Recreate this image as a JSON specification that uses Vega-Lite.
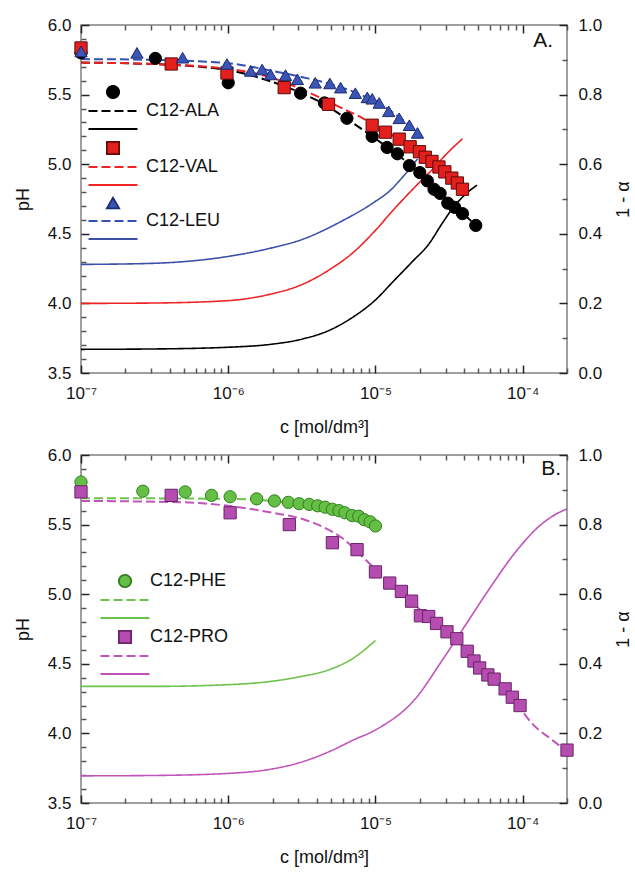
{
  "$schema": "https://vega.github.io/schema/vega-lite/v6.json",
  "padding": {"left": 13, "top": 15, "right": 5, "bottom": 2},
  "background": "white",
  "config": {
    "font": "Liberation Sans",
    "view": {"stroke": "#808080", "strokeWidth": 1.5},
    "axis": {"grid": false, "domain": false, "labelFont": "Liberation Sans", "titleFont": "Liberation Sans", "labelFontSize": 17, "titleFontSize": 18, "titleFontWeight": "normal", "labelColor": "#111", "titleColor": "#111", "tickWidth": 1.5, "tickOpacity": 1, "labelOverlap": false, "labelFlush": false},
    "legend": {"title": null, "orient": "none", "symbolSize": 150, "symbolStrokeWidth": 1.8, "padding": 0, "labelFontSize": 18, "labelFont": "Liberation Sans", "labelColor": "#111", "labelLimit": 300}
  },
  "datasets": {
    "ptsA": [
      {"k": "ALA-pt", "c": 1e-7, "pH": 5.80}, {"k": "ALA-pt", "c": 3.2e-7, "pH": 5.76}, {"k": "ALA-pt", "c": 1e-6, "pH": 5.585}, {"k": "ALA-pt", "c": 3.1e-6, "pH": 5.51}, {"k": "ALA-pt", "c": 4.5e-6, "pH": 5.44}, {"k": "ALA-pt", "c": 6.4e-6, "pH": 5.33}, {"k": "ALA-pt", "c": 9.5e-6, "pH": 5.20}, {"k": "ALA-pt", "c": 1.2e-5, "pH": 5.12}, {"k": "ALA-pt", "c": 1.41e-5, "pH": 5.075}, {"k": "ALA-pt", "c": 1.7e-5, "pH": 4.99}, {"k": "ALA-pt", "c": 2e-5, "pH": 4.94}, {"k": "ALA-pt", "c": 2.25e-5, "pH": 4.88}, {"k": "ALA-pt", "c": 2.5e-5, "pH": 4.82}, {"k": "ALA-pt", "c": 2.75e-5, "pH": 4.79}, {"k": "ALA-pt", "c": 3.1e-5, "pH": 4.72}, {"k": "ALA-pt", "c": 3.45e-5, "pH": 4.69}, {"k": "ALA-pt", "c": 3.9e-5, "pH": 4.645}, {"k": "ALA-pt", "c": 4.8e-5, "pH": 4.56},
      {"k": "VAL-pt", "c": 1e-7, "pH": 5.835}, {"k": "VAL-pt", "c": 4.1e-7, "pH": 5.72}, {"k": "VAL-pt", "c": 9.8e-7, "pH": 5.655}, {"k": "VAL-pt", "c": 2.4e-6, "pH": 5.55}, {"k": "VAL-pt", "c": 4.8e-6, "pH": 5.43}, {"k": "VAL-pt", "c": 9.5e-6, "pH": 5.28}, {"k": "VAL-pt", "c": 1.17e-5, "pH": 5.23}, {"k": "VAL-pt", "c": 1.45e-5, "pH": 5.18}, {"k": "VAL-pt", "c": 1.72e-5, "pH": 5.125}, {"k": "VAL-pt", "c": 1.99e-5, "pH": 5.09}, {"k": "VAL-pt", "c": 2.18e-5, "pH": 5.05}, {"k": "VAL-pt", "c": 2.42e-5, "pH": 5.02}, {"k": "VAL-pt", "c": 2.7e-5, "pH": 4.98}, {"k": "VAL-pt", "c": 2.96e-5, "pH": 4.945}, {"k": "VAL-pt", "c": 3.3e-5, "pH": 4.90}, {"k": "VAL-pt", "c": 3.6e-5, "pH": 4.865}, {"k": "VAL-pt", "c": 3.9e-5, "pH": 4.82},
      {"k": "LEU-pt", "c": 1e-7, "pH": 5.81}, {"k": "LEU-pt", "c": 2.4e-7, "pH": 5.80}, {"k": "LEU-pt", "c": 4.9e-7, "pH": 5.765}, {"k": "LEU-pt", "c": 9.8e-7, "pH": 5.72}, {"k": "LEU-pt", "c": 1.42e-6, "pH": 5.67}, {"k": "LEU-pt", "c": 1.7e-6, "pH": 5.68}, {"k": "LEU-pt", "c": 1.94e-6, "pH": 5.645}, {"k": "LEU-pt", "c": 2.45e-6, "pH": 5.64}, {"k": "LEU-pt", "c": 2.95e-6, "pH": 5.61}, {"k": "LEU-pt", "c": 3.9e-6, "pH": 5.585}, {"k": "LEU-pt", "c": 4.9e-6, "pH": 5.58}, {"k": "LEU-pt", "c": 5.8e-6, "pH": 5.55}, {"k": "LEU-pt", "c": 7.3e-6, "pH": 5.51}, {"k": "LEU-pt", "c": 8.8e-6, "pH": 5.48}, {"k": "LEU-pt", "c": 9.5e-6, "pH": 5.47}, {"k": "LEU-pt", "c": 1.06e-5, "pH": 5.44}, {"k": "LEU-pt", "c": 1.23e-5, "pH": 5.38}, {"k": "LEU-pt", "c": 1.45e-5, "pH": 5.33}, {"k": "LEU-pt", "c": 1.7e-5, "pH": 5.28}, {"k": "LEU-pt", "c": 1.93e-5, "pH": 5.225}
    ],
    "dashA": [
      {"k": "ALA-dash", "c": 1e-7, "pH": 5.73}, {"k": "ALA-dash", "c": 3e-7, "pH": 5.72}, {"k": "ALA-dash", "c": 1e-6, "pH": 5.675}, {"k": "ALA-dash", "c": 2e-6, "pH": 5.59}, {"k": "ALA-dash", "c": 3e-6, "pH": 5.52}, {"k": "ALA-dash", "c": 4.5e-6, "pH": 5.43}, {"k": "ALA-dash", "c": 6.5e-6, "pH": 5.32}, {"k": "ALA-dash", "c": 9.5e-6, "pH": 5.20}, {"k": "ALA-dash", "c": 1.4e-5, "pH": 5.07}, {"k": "ALA-dash", "c": 2e-5, "pH": 4.94}, {"k": "ALA-dash", "c": 2.8e-5, "pH": 4.79}, {"k": "ALA-dash", "c": 3.9e-5, "pH": 4.65}, {"k": "ALA-dash", "c": 4.8e-5, "pH": 4.56},
      {"k": "VAL-dash", "c": 1e-7, "pH": 5.73}, {"k": "VAL-dash", "c": 3e-7, "pH": 5.72}, {"k": "VAL-dash", "c": 1e-6, "pH": 5.685}, {"k": "VAL-dash", "c": 2e-6, "pH": 5.62}, {"k": "VAL-dash", "c": 3.7e-6, "pH": 5.505}, {"k": "VAL-dash", "c": 6e-6, "pH": 5.40}, {"k": "VAL-dash", "c": 8.2e-6, "pH": 5.33}, {"k": "VAL-dash", "c": 1.2e-5, "pH": 5.23}, {"k": "VAL-dash", "c": 1.7e-5, "pH": 5.13}, {"k": "VAL-dash", "c": 2.4e-5, "pH": 5.02}, {"k": "VAL-dash", "c": 3e-5, "pH": 4.94}, {"k": "VAL-dash", "c": 3.9e-5, "pH": 4.82},
      {"k": "LEU-dash", "c": 1e-7, "pH": 5.755}, {"k": "LEU-dash", "c": 3e-7, "pH": 5.75}, {"k": "LEU-dash", "c": 1e-6, "pH": 5.725}, {"k": "LEU-dash", "c": 2e-6, "pH": 5.67}, {"k": "LEU-dash", "c": 3.2e-6, "pH": 5.625}, {"k": "LEU-dash", "c": 5e-6, "pH": 5.575}, {"k": "LEU-dash", "c": 7.5e-6, "pH": 5.51}, {"k": "LEU-dash", "c": 1e-5, "pH": 5.45}, {"k": "LEU-dash", "c": 1.4e-5, "pH": 5.35}, {"k": "LEU-dash", "c": 1.93e-5, "pH": 5.23}
    ],
    "solidA": [
      {"k": "ALA-solid", "c": 1e-7, "a": 0.068}, {"k": "ALA-solid", "c": 3e-7, "a": 0.069}, {"k": "ALA-solid", "c": 1e-6, "a": 0.074}, {"k": "ALA-solid", "c": 2e-6, "a": 0.083}, {"k": "ALA-solid", "c": 3e-6, "a": 0.095}, {"k": "ALA-solid", "c": 5e-6, "a": 0.125}, {"k": "ALA-solid", "c": 7e-6, "a": 0.16}, {"k": "ALA-solid", "c": 1e-5, "a": 0.21}, {"k": "ALA-solid", "c": 1.3e-5, "a": 0.26}, {"k": "ALA-solid", "c": 1.78e-5, "a": 0.32}, {"k": "ALA-solid", "c": 2.3e-5, "a": 0.37}, {"k": "ALA-solid", "c": 2.84e-5, "a": 0.43}, {"k": "ALA-solid", "c": 3.3e-5, "a": 0.47}, {"k": "ALA-solid", "c": 4e-5, "a": 0.51}, {"k": "ALA-solid", "c": 4.9e-5, "a": 0.54},
      {"k": "VAL-solid", "c": 1e-7, "a": 0.2}, {"k": "VAL-solid", "c": 3e-7, "a": 0.201}, {"k": "VAL-solid", "c": 1e-6, "a": 0.208}, {"k": "VAL-solid", "c": 2e-6, "a": 0.228}, {"k": "VAL-solid", "c": 3e-6, "a": 0.25}, {"k": "VAL-solid", "c": 5e-6, "a": 0.30}, {"k": "VAL-solid", "c": 7e-6, "a": 0.345}, {"k": "VAL-solid", "c": 1e-5, "a": 0.41}, {"k": "VAL-solid", "c": 1.3e-5, "a": 0.465}, {"k": "VAL-solid", "c": 1.86e-5, "a": 0.535}, {"k": "VAL-solid", "c": 2.5e-5, "a": 0.59}, {"k": "VAL-solid", "c": 3e-5, "a": 0.627}, {"k": "VAL-solid", "c": 3.9e-5, "a": 0.673},
      {"k": "LEU-solid", "c": 1e-7, "a": 0.312}, {"k": "LEU-solid", "c": 3e-7, "a": 0.315}, {"k": "LEU-solid", "c": 1e-6, "a": 0.335}, {"k": "LEU-solid", "c": 2e-6, "a": 0.36}, {"k": "LEU-solid", "c": 3e-6, "a": 0.38}, {"k": "LEU-solid", "c": 6e-6, "a": 0.438}, {"k": "LEU-solid", "c": 9.5e-6, "a": 0.487}, {"k": "LEU-solid", "c": 1.3e-5, "a": 0.53}, {"k": "LEU-solid", "c": 1.46e-5, "a": 0.553}, {"k": "LEU-solid", "c": 1.93e-5, "a": 0.615}
    ],
    "ptsB": [
      {"k": "PHE-pt", "c": 1e-7, "pH": 5.806}, {"k": "PHE-pt", "c": 2.63e-7, "pH": 5.74}, {"k": "PHE-pt", "c": 5.1e-7, "pH": 5.735}, {"k": "PHE-pt", "c": 7.7e-7, "pH": 5.71}, {"k": "PHE-pt", "c": 1.03e-6, "pH": 5.70}, {"k": "PHE-pt", "c": 1.56e-6, "pH": 5.685}, {"k": "PHE-pt", "c": 2.06e-6, "pH": 5.67}, {"k": "PHE-pt", "c": 2.56e-6, "pH": 5.66}, {"k": "PHE-pt", "c": 3.03e-6, "pH": 5.65}, {"k": "PHE-pt", "c": 3.55e-6, "pH": 5.645}, {"k": "PHE-pt", "c": 4.05e-6, "pH": 5.635}, {"k": "PHE-pt", "c": 4.55e-6, "pH": 5.625}, {"k": "PHE-pt", "c": 5.1e-6, "pH": 5.61}, {"k": "PHE-pt", "c": 5.65e-6, "pH": 5.60}, {"k": "PHE-pt", "c": 6.2e-6, "pH": 5.585}, {"k": "PHE-pt", "c": 6.95e-6, "pH": 5.565}, {"k": "PHE-pt", "c": 7.7e-6, "pH": 5.56}, {"k": "PHE-pt", "c": 8.4e-6, "pH": 5.535}, {"k": "PHE-pt", "c": 9.2e-6, "pH": 5.52}, {"k": "PHE-pt", "c": 1e-5, "pH": 5.49},
      {"k": "PRO-pt", "c": 1e-7, "pH": 5.735}, {"k": "PRO-pt", "c": 4.1e-7, "pH": 5.71}, {"k": "PRO-pt", "c": 1.03e-6, "pH": 5.585}, {"k": "PRO-pt", "c": 2.6e-6, "pH": 5.50}, {"k": "PRO-pt", "c": 5.1e-6, "pH": 5.37}, {"k": "PRO-pt", "c": 7.5e-6, "pH": 5.32}, {"k": "PRO-pt", "c": 1e-5, "pH": 5.16}, {"k": "PRO-pt", "c": 1.25e-5, "pH": 5.08}, {"k": "PRO-pt", "c": 1.5e-5, "pH": 5.02}, {"k": "PRO-pt", "c": 1.76e-5, "pH": 4.95}, {"k": "PRO-pt", "c": 2.02e-5, "pH": 4.845}, {"k": "PRO-pt", "c": 2.3e-5, "pH": 4.84}, {"k": "PRO-pt", "c": 2.6e-5, "pH": 4.79}, {"k": "PRO-pt", "c": 3.06e-5, "pH": 4.73}, {"k": "PRO-pt", "c": 3.57e-5, "pH": 4.68}, {"k": "PRO-pt", "c": 4.2e-5, "pH": 4.59}, {"k": "PRO-pt", "c": 4.67e-5, "pH": 4.52}, {"k": "PRO-pt", "c": 5.1e-5, "pH": 4.47}, {"k": "PRO-pt", "c": 5.8e-5, "pH": 4.42}, {"k": "PRO-pt", "c": 6.4e-5, "pH": 4.39}, {"k": "PRO-pt", "c": 7.6e-5, "pH": 4.32}, {"k": "PRO-pt", "c": 8.5e-5, "pH": 4.26}, {"k": "PRO-pt", "c": 9.6e-5, "pH": 4.20}, {"k": "PRO-pt", "c": 2e-4, "pH": 3.88}
    ],
    "dashB": [
      {"k": "PHE-dash", "c": 1e-7, "pH": 5.69}, {"k": "PHE-dash", "c": 1e-6, "pH": 5.685}, {"k": "PHE-dash", "c": 2e-6, "pH": 5.67}, {"k": "PHE-dash", "c": 4e-6, "pH": 5.635}, {"k": "PHE-dash", "c": 6e-6, "pH": 5.59}, {"k": "PHE-dash", "c": 8e-6, "pH": 5.545}, {"k": "PHE-dash", "c": 1e-5, "pH": 5.49},
      {"k": "PRO-dash", "c": 1e-7, "pH": 5.67}, {"k": "PRO-dash", "c": 5e-7, "pH": 5.66}, {"k": "PRO-dash", "c": 1e-6, "pH": 5.635}, {"k": "PRO-dash", "c": 2e-6, "pH": 5.585}, {"k": "PRO-dash", "c": 3.2e-6, "pH": 5.54}, {"k": "PRO-dash", "c": 6e-6, "pH": 5.40}, {"k": "PRO-dash", "c": 1e-5, "pH": 5.18}, {"k": "PRO-dash", "c": 1.5e-5, "pH": 5.02}, {"k": "PRO-dash", "c": 2e-5, "pH": 4.89}, {"k": "PRO-dash", "c": 3e-5, "pH": 4.73}, {"k": "PRO-dash", "c": 4.5e-5, "pH": 4.55}, {"k": "PRO-dash", "c": 6e-5, "pH": 4.41}, {"k": "PRO-dash", "c": 9e-5, "pH": 4.22}, {"k": "PRO-dash", "c": 1.16e-4, "pH": 4.07}, {"k": "PRO-dash", "c": 1.6e-4, "pH": 3.95}, {"k": "PRO-dash", "c": 2e-4, "pH": 3.87}
    ],
    "solidB": [
      {"k": "PHE-solid", "c": 1e-7, "a": 0.335}, {"k": "PHE-solid", "c": 3e-7, "a": 0.335}, {"k": "PHE-solid", "c": 1e-6, "a": 0.34}, {"k": "PHE-solid", "c": 2e-6, "a": 0.35}, {"k": "PHE-solid", "c": 3e-6, "a": 0.362}, {"k": "PHE-solid", "c": 5e-6, "a": 0.385}, {"k": "PHE-solid", "c": 7e-6, "a": 0.415}, {"k": "PHE-solid", "c": 1e-5, "a": 0.467},
      {"k": "PRO-solid", "c": 1e-7, "a": 0.078}, {"k": "PRO-solid", "c": 3e-7, "a": 0.079}, {"k": "PRO-solid", "c": 1e-6, "a": 0.085}, {"k": "PRO-solid", "c": 2e-6, "a": 0.098}, {"k": "PRO-solid", "c": 3e-6, "a": 0.115}, {"k": "PRO-solid", "c": 5e-6, "a": 0.15}, {"k": "PRO-solid", "c": 7e-6, "a": 0.18}, {"k": "PRO-solid", "c": 1e-5, "a": 0.21}, {"k": "PRO-solid", "c": 1.87e-5, "a": 0.30}, {"k": "PRO-solid", "c": 2.84e-5, "a": 0.41}, {"k": "PRO-solid", "c": 4.07e-5, "a": 0.51}, {"k": "PRO-solid", "c": 5.93e-5, "a": 0.615}, {"k": "PRO-solid", "c": 8.9e-5, "a": 0.72}, {"k": "PRO-solid", "c": 1.29e-4, "a": 0.795}, {"k": "PRO-solid", "c": 1.77e-4, "a": 0.835}, {"k": "PRO-solid", "c": 2e-4, "a": 0.845}
    ]
  },
  "vconcat": [
    {
      "width": 486, "height": 348,
      "title": {"text": "A.", "anchor": "end", "orient": "top", "frame": "group", "offset": -35, "dx": -14, "fontSize": 21, "fontWeight": "normal", "font": "Liberation Sans", "color": "#111"},
      "layer": [
        {
          "data": {"name": "solidA"},
          "mark": {"type": "line", "strokeWidth": 1.6, "interpolate": "monotone"},
          "encoding": {
            "x": {"field": "c", "type": "quantitative", "scale": {"type": "log", "domain": [1e-7, 2e-4], "nice": false},
              "axis": {"orient": "top", "labels": false, "title": null, "values": [1e-7, 1e-6, 1e-5, 1e-4], "tickSize": 8, "offset": -8, "tickColor": "#222"}},
            "y": {"field": "a", "type": "quantitative", "scale": {"domain": [0, 1], "nice": false, "zero": false},
              "axis": {"orient": "right", "ticks": false, "tickSize": 0, "values": [0, 0.2, 0.4, 0.6, 0.8, 1], "format": ".1f", "labelPadding": 11, "title": "1 - α", "titleAngle": 270, "titleBaseline": "top", "titlePadding": 13}},
            "stroke": {"field": "k", "type": "nominal", "scale": {"domain": ["ALA-pt","ALA-dash","ALA-solid","VAL-pt","VAL-dash","VAL-solid","LEU-pt","LEU-dash","LEU-solid"], "range": ["#000000","#000000","#000000","#5e0c0c","#ee2424","#ee2424","#1c2a72","#3550b4","#3d50a8"]},
              "legend": {"legendX": 23, "legendY": 58, "labelExpr": "indexof(datum.value, '-dash') > 0 ? 'C12-' + slice(datum.value, 0, 3) : ''", "labelOffset": 24, "rowPadding": 0}},
            "strokeDash": {"field": "k", "type": "nominal", "scale": {"domain": ["ALA-pt","ALA-dash","ALA-solid","VAL-pt","VAL-dash","VAL-solid","LEU-pt","LEU-dash","LEU-solid"], "range": [[1,0],[9,4],[1,0],[1,0],[9,4],[1,0],[1,0],[9,4],[1,0]]},
              "legend": {"legendX": 23, "legendY": 58, "labelExpr": "indexof(datum.value, '-dash') > 0 ? 'C12-' + slice(datum.value, 0, 3) : ''", "labelOffset": 24, "rowPadding": 0}}
          }
        },
        {
          "encoding": {
            "x": {"field": "c", "type": "quantitative", "scale": {"type": "log", "domain": [1e-7, 2e-4], "nice": false},
              "axis": {"orient": "bottom", "ticks": false, "tickSize": 0, "values": [1e-7, 1e-6, 1e-5, 1e-4], "labelPadding": 12, "title": "c [mol/dm³]", "titlePadding": 17,
                "labelExpr": "datum.value == 0.0000001 ? '10⁻⁷' : datum.value == 0.000001 ? '10⁻⁶' : datum.value == 0.00001 ? '10⁻⁵' : '10⁻⁴'"}},
            "y": {"field": "pH", "type": "quantitative", "scale": {"domain": [3.5, 6], "nice": false, "zero": false},
              "axis": {"orient": "left", "ticks": false, "tickSize": 0, "values": [3.5, 4, 4.5, 5, 5.5, 6], "format": ".1f", "labelPadding": 10, "title": "pH", "titlePadding": 15}}
          },
          "layer": [
            {
              "data": {"name": "dashA"},
              "mark": {"type": "line", "strokeWidth": 2, "interpolate": "monotone"},
              "encoding": {
                "stroke": {"field": "k", "type": "nominal", "scale": {"domain": ["ALA-pt","ALA-dash","ALA-solid","VAL-pt","VAL-dash","VAL-solid","LEU-pt","LEU-dash","LEU-solid"], "range": ["#000000","#000000","#000000","#5e0c0c","#ee2424","#ee2424","#1c2a72","#3550b4","#3d50a8"]},
                  "legend": {"legendX": 23, "legendY": 58, "labelExpr": "indexof(datum.value, '-dash') > 0 ? 'C12-' + slice(datum.value, 0, 3) : ''", "labelOffset": 24, "rowPadding": 0}},
                "strokeDash": {"field": "k", "type": "nominal", "scale": {"domain": ["ALA-pt","ALA-dash","ALA-solid","VAL-pt","VAL-dash","VAL-solid","LEU-pt","LEU-dash","LEU-solid"], "range": [[1,0],[9,4],[1,0],[1,0],[9,4],[1,0],[1,0],[9,4],[1,0]]},
                  "legend": {"legendX": 23, "legendY": 58, "labelExpr": "indexof(datum.value, '-dash') > 0 ? 'C12-' + slice(datum.value, 0, 3) : ''", "labelOffset": 24, "rowPadding": 0}}
              }
            },
            {
              "data": {"name": "ptsA"},
              "mark": {"type": "point", "filled": true, "opacity": 1, "size": 150, "strokeWidth": 1},
              "encoding": {
                "fill": {"field": "k", "type": "nominal", "scale": {"domain": ["ALA-pt","ALA-dash","ALA-solid","VAL-pt","VAL-dash","VAL-solid","LEU-pt","LEU-dash","LEU-solid"], "range": ["#000000","transparent","transparent","#e3201e","transparent","transparent","#3a55b5","transparent","transparent"]},
                  "legend": {"legendX": 23, "legendY": 58, "labelExpr": "indexof(datum.value, '-dash') > 0 ? 'C12-' + slice(datum.value, 0, 3) : ''", "labelOffset": 24, "rowPadding": 0}},
                "stroke": {"field": "k", "type": "nominal", "scale": {"domain": ["ALA-pt","ALA-dash","ALA-solid","VAL-pt","VAL-dash","VAL-solid","LEU-pt","LEU-dash","LEU-solid"], "range": ["#000000","#000000","#000000","#5e0c0c","#ee2424","#ee2424","#1c2a72","#3550b4","#3d50a8"]},
                  "legend": {"legendX": 23, "legendY": 58, "labelExpr": "indexof(datum.value, '-dash') > 0 ? 'C12-' + slice(datum.value, 0, 3) : ''", "labelOffset": 24, "rowPadding": 0}},
                "shape": {"field": "k", "type": "nominal", "scale": {"domain": ["ALA-pt","ALA-dash","ALA-solid","VAL-pt","VAL-dash","VAL-solid","LEU-pt","LEU-dash","LEU-solid"], "range": ["circle","M-4,0H4","M-4,0H4","square","M-4,0H4","M-4,0H4","triangle-up","M-4,0H4","M-4,0H4"]},
                  "legend": {"legendX": 23, "legendY": 58, "labelExpr": "indexof(datum.value, '-dash') > 0 ? 'C12-' + slice(datum.value, 0, 3) : ''", "labelOffset": 24, "rowPadding": 0}}
              }
            }
          ]
        },
        {
          "data": {"name": "ptsA"},
          "mark": {"type": "point", "opacity": 0},
          "encoding": {
            "x": {"field": "c", "type": "quantitative", "scale": {"type": "log", "domain": [1e-7, 2e-4], "nice": false},
              "axis": {"orient": "bottom", "labels": false, "title": null, "values": [1e-7, 1e-6, 1e-5, 1e-4], "tickSize": 8, "offset": -8, "tickColor": "#222"}},
            "y": {"field": "pH", "type": "quantitative", "scale": {"domain": [3.5, 6], "nice": false, "zero": false},
              "axis": {"orient": "left", "labels": false, "title": null, "values": [3.5, 4, 4.5, 5, 5.5, 6], "tickSize": 8, "offset": -8, "tickColor": "#222"}}
          }
        },
        {
          "data": {"name": "ptsA"},
          "mark": {"type": "point", "opacity": 0},
          "encoding": {
            "x": {"field": "c", "type": "quantitative", "scale": {"type": "log", "domain": [1e-7, 2e-4], "nice": false},
              "axis": {"orient": "bottom", "labels": false, "title": null, "values": [2e-7,3e-7,4e-7,5e-7,6e-7,7e-7,8e-7,9e-7,2e-6,3e-6,4e-6,5e-6,6e-6,7e-6,8e-6,9e-6,2e-5,3e-5,4e-5,5e-5,6e-5,7e-5,8e-5,9e-5,2e-4], "tickSize": -5, "tickColor": "#555"}},
            "y": {"field": "pH", "type": "quantitative", "scale": {"domain": [3.5, 6], "nice": false, "zero": false},
              "axis": {"orient": "left", "labels": false, "title": null, "values": [3.6,3.7,3.8,3.9,4.1,4.2,4.3,4.4,4.6,4.7,4.8,4.9,5.1,5.2,5.3,5.4,5.6,5.7,5.8,5.9], "tickSize": -5, "tickColor": "#555"}}
          }
        },
        {
          "data": {"name": "solidA"},
          "mark": {"type": "point", "opacity": 0},
          "encoding": {
            "x": {"field": "c", "type": "quantitative", "scale": {"type": "log", "domain": [1e-7, 2e-4], "nice": false},
              "axis": {"orient": "top", "labels": false, "title": null, "values": [2e-7,3e-7,4e-7,5e-7,6e-7,7e-7,8e-7,9e-7,2e-6,3e-6,4e-6,5e-6,6e-6,7e-6,8e-6,9e-6,2e-5,3e-5,4e-5,5e-5,6e-5,7e-5,8e-5,9e-5,2e-4], "tickSize": -5, "tickColor": "#555"}},
            "y": {"field": "a", "type": "quantitative", "scale": {"domain": [0, 1], "nice": false, "zero": false},
              "axis": {"orient": "right", "labels": false, "title": null, "values": [0, 0.2, 0.4, 0.6, 0.8, 1], "tickSize": 8, "offset": -8, "tickColor": "#222"}}
          }
        },
        {
          "data": {"name": "solidA"},
          "mark": {"type": "point", "opacity": 0},
          "encoding": {
            "x": {"field": "c", "type": "quantitative", "scale": {"type": "log", "domain": [1e-7, 2e-4], "nice": false}, "axis": null},
            "y": {"field": "a", "type": "quantitative", "scale": {"domain": [0, 1], "nice": false, "zero": false},
              "axis": {"orient": "right", "labels": false, "title": null, "values": [0.1, 0.3, 0.5, 0.7, 0.9], "tickSize": -5, "tickColor": "#555"}}
          }
        }
      ],
      "resolve": {"scale": {"y": "independent"}, "axis": {"x": "independent", "y": "independent"}}
    },
    {
      "width": 486, "height": 348,
      "title": {"text": "B.", "anchor": "end", "orient": "top", "frame": "group", "offset": -33, "dx": -6, "fontSize": 21, "fontWeight": "normal", "font": "Liberation Sans", "color": "#111"},
      "layer": [
        {
          "data": {"name": "solidB"},
          "mark": {"type": "line", "strokeWidth": 1.6, "interpolate": "monotone"},
          "encoding": {
            "x": {"field": "c", "type": "quantitative", "scale": {"type": "log", "domain": [1e-7, 2e-4], "nice": false},
              "axis": {"orient": "top", "labels": false, "title": null, "values": [1e-7, 1e-6, 1e-5, 1e-4], "tickSize": 8, "offset": -8, "tickColor": "#222"}},
            "y": {"field": "a", "type": "quantitative", "scale": {"domain": [0, 1], "nice": false, "zero": false},
              "axis": {"orient": "right", "ticks": false, "tickSize": 0, "values": [0, 0.2, 0.4, 0.6, 0.8, 1], "format": ".1f", "labelPadding": 11, "title": "1 - α", "titleAngle": 270, "titleBaseline": "top", "titlePadding": 13}},
            "stroke": {"field": "k", "type": "nominal", "scale": {"domain": ["PHE-pt","PHE-dash","PHE-solid","PRO-pt","PRO-dash","PRO-solid"], "range": ["#2f7f1f","#6dc24b","#6dc24b","#6b2468","#c055b9","#c055b9"]},
              "legend": {"legendX": 35, "legendY": 117, "labelExpr": "indexof(datum.value, '-pt') > 0 ? 'C12-' + slice(datum.value, 0, 3) : ''", "labelOffset": 16, "rowPadding": 0}},
            "strokeDash": {"field": "k", "type": "nominal", "scale": {"domain": ["PHE-pt","PHE-dash","PHE-solid","PRO-pt","PRO-dash","PRO-solid"], "range": [[1,0],[9,4],[1,0],[1,0],[9,4],[1,0]]},
              "legend": {"legendX": 35, "legendY": 117, "labelExpr": "indexof(datum.value, '-pt') > 0 ? 'C12-' + slice(datum.value, 0, 3) : ''", "labelOffset": 16, "rowPadding": 0}}
          }
        },
        {
          "encoding": {
            "x": {"field": "c", "type": "quantitative", "scale": {"type": "log", "domain": [1e-7, 2e-4], "nice": false},
              "axis": {"orient": "bottom", "ticks": false, "tickSize": 0, "values": [1e-7, 1e-6, 1e-5, 1e-4], "labelPadding": 12, "title": "c [mol/dm³]", "titlePadding": 17,
                "labelExpr": "datum.value == 0.0000001 ? '10⁻⁷' : datum.value == 0.000001 ? '10⁻⁶' : datum.value == 0.00001 ? '10⁻⁵' : '10⁻⁴'"}},
            "y": {"field": "pH", "type": "quantitative", "scale": {"domain": [3.5, 6], "nice": false, "zero": false},
              "axis": {"orient": "left", "ticks": false, "tickSize": 0, "values": [3.5, 4, 4.5, 5, 5.5, 6], "format": ".1f", "labelPadding": 10, "title": "pH", "titlePadding": 15}}
          },
          "layer": [
            {
              "data": {"name": "dashB"},
              "mark": {"type": "line", "strokeWidth": 2, "interpolate": "monotone"},
              "encoding": {
                "stroke": {"field": "k", "type": "nominal", "scale": {"domain": ["PHE-pt","PHE-dash","PHE-solid","PRO-pt","PRO-dash","PRO-solid"], "range": ["#2f7f1f","#6dc24b","#6dc24b","#6b2468","#c055b9","#c055b9"]},
                  "legend": {"legendX": 35, "legendY": 117, "labelExpr": "indexof(datum.value, '-pt') > 0 ? 'C12-' + slice(datum.value, 0, 3) : ''", "labelOffset": 16, "rowPadding": 0}},
                "strokeDash": {"field": "k", "type": "nominal", "scale": {"domain": ["PHE-pt","PHE-dash","PHE-solid","PRO-pt","PRO-dash","PRO-solid"], "range": [[1,0],[9,4],[1,0],[1,0],[9,4],[1,0]]},
                  "legend": {"legendX": 35, "legendY": 117, "labelExpr": "indexof(datum.value, '-pt') > 0 ? 'C12-' + slice(datum.value, 0, 3) : ''", "labelOffset": 16, "rowPadding": 0}}
              }
            },
            {
              "data": {"name": "ptsB"},
              "mark": {"type": "point", "filled": true, "opacity": 1, "size": 150, "strokeWidth": 1},
              "encoding": {
                "fill": {"field": "k", "type": "nominal", "scale": {"domain": ["PHE-pt","PHE-dash","PHE-solid","PRO-pt","PRO-dash","PRO-solid"], "range": ["#66bf45","transparent","transparent","#b54db0","transparent","transparent"]},
                  "legend": {"legendX": 35, "legendY": 117, "labelExpr": "indexof(datum.value, '-pt') > 0 ? 'C12-' + slice(datum.value, 0, 3) : ''", "labelOffset": 16, "rowPadding": 0}},
                "stroke": {"field": "k", "type": "nominal", "scale": {"domain": ["PHE-pt","PHE-dash","PHE-solid","PRO-pt","PRO-dash","PRO-solid"], "range": ["#2f7f1f","#6dc24b","#6dc24b","#6b2468","#c055b9","#c055b9"]},
                  "legend": {"legendX": 35, "legendY": 117, "labelExpr": "indexof(datum.value, '-pt') > 0 ? 'C12-' + slice(datum.value, 0, 3) : ''", "labelOffset": 16, "rowPadding": 0}},
                "shape": {"field": "k", "type": "nominal", "scale": {"domain": ["PHE-pt","PHE-dash","PHE-solid","PRO-pt","PRO-dash","PRO-solid"], "range": ["circle","M-4,0H4","M-4,0H4","square","M-4,0H4","M-4,0H4"]},
                  "legend": {"legendX": 35, "legendY": 117, "labelExpr": "indexof(datum.value, '-pt') > 0 ? 'C12-' + slice(datum.value, 0, 3) : ''", "labelOffset": 16, "rowPadding": 0}}
              }
            }
          ]
        },
        {
          "data": {"name": "ptsB"},
          "mark": {"type": "point", "opacity": 0},
          "encoding": {
            "x": {"field": "c", "type": "quantitative", "scale": {"type": "log", "domain": [1e-7, 2e-4], "nice": false},
              "axis": {"orient": "bottom", "labels": false, "title": null, "values": [1e-7, 1e-6, 1e-5, 1e-4], "tickSize": 8, "offset": -8, "tickColor": "#222"}},
            "y": {"field": "pH", "type": "quantitative", "scale": {"domain": [3.5, 6], "nice": false, "zero": false},
              "axis": {"orient": "left", "labels": false, "title": null, "values": [3.5, 4, 4.5, 5, 5.5, 6], "tickSize": 8, "offset": -8, "tickColor": "#222"}}
          }
        },
        {
          "data": {"name": "ptsB"},
          "mark": {"type": "point", "opacity": 0},
          "encoding": {
            "x": {"field": "c", "type": "quantitative", "scale": {"type": "log", "domain": [1e-7, 2e-4], "nice": false},
              "axis": {"orient": "bottom", "labels": false, "title": null, "values": [2e-7,3e-7,4e-7,5e-7,6e-7,7e-7,8e-7,9e-7,2e-6,3e-6,4e-6,5e-6,6e-6,7e-6,8e-6,9e-6,2e-5,3e-5,4e-5,5e-5,6e-5,7e-5,8e-5,9e-5,2e-4], "tickSize": -5, "tickColor": "#555"}},
            "y": {"field": "pH", "type": "quantitative", "scale": {"domain": [3.5, 6], "nice": false, "zero": false},
              "axis": {"orient": "left", "labels": false, "title": null, "values": [3.6,3.7,3.8,3.9,4.1,4.2,4.3,4.4,4.6,4.7,4.8,4.9,5.1,5.2,5.3,5.4,5.6,5.7,5.8,5.9], "tickSize": -5, "tickColor": "#555"}}
          }
        },
        {
          "data": {"name": "solidB"},
          "mark": {"type": "point", "opacity": 0},
          "encoding": {
            "x": {"field": "c", "type": "quantitative", "scale": {"type": "log", "domain": [1e-7, 2e-4], "nice": false},
              "axis": {"orient": "top", "labels": false, "title": null, "values": [2e-7,3e-7,4e-7,5e-7,6e-7,7e-7,8e-7,9e-7,2e-6,3e-6,4e-6,5e-6,6e-6,7e-6,8e-6,9e-6,2e-5,3e-5,4e-5,5e-5,6e-5,7e-5,8e-5,9e-5,2e-4], "tickSize": -5, "tickColor": "#555"}},
            "y": {"field": "a", "type": "quantitative", "scale": {"domain": [0, 1], "nice": false, "zero": false},
              "axis": {"orient": "right", "labels": false, "title": null, "values": [0, 0.2, 0.4, 0.6, 0.8, 1], "tickSize": 8, "offset": -8, "tickColor": "#222"}}
          }
        },
        {
          "data": {"name": "solidB"},
          "mark": {"type": "point", "opacity": 0},
          "encoding": {
            "x": {"field": "c", "type": "quantitative", "scale": {"type": "log", "domain": [1e-7, 2e-4], "nice": false}, "axis": null},
            "y": {"field": "a", "type": "quantitative", "scale": {"domain": [0, 1], "nice": false, "zero": false},
              "axis": {"orient": "right", "labels": false, "title": null, "values": [0.1, 0.3, 0.5, 0.7, 0.9], "tickSize": -5, "tickColor": "#555"}}
          }
        }
      ],
      "resolve": {"scale": {"y": "independent"}, "axis": {"x": "independent", "y": "independent"}}
    }
  ],
  "spacing": 8,
  "resolve": {"scale": {"fill": "independent", "stroke": "independent", "shape": "independent", "strokeDash": "independent"}, "legend": {"fill": "independent", "stroke": "independent", "shape": "independent", "strokeDash": "independent"}}
}
